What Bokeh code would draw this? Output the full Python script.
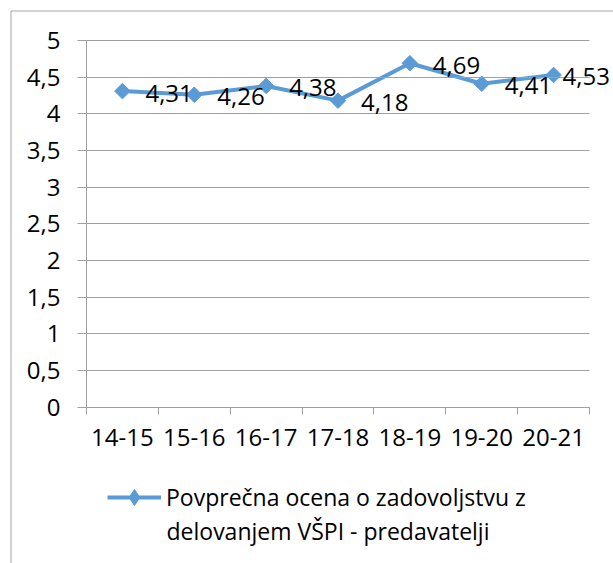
import math
from bokeh.plotting import figure
from bokeh.models import (Range1d, FixedTicker, CustomJSTickFormatter, ColumnDataSource,
                          LabelSet, Label, Legend, LegendItem, BoxAnnotation)
from bokeh.core.properties import value
from bokeh.embed import file_html
from bokeh.resources import INLINE

categories = ["14-15", "15-16", "16-17", "17-18", "18-19", "19-20", "20-21"]
values = [4.31, 4.26, 4.38, 4.18, 4.69, 4.41, 4.53]
value_labels = ["4,31", "4,26", "4,38", "4,18", "4,69", "4,41", "4,53"]
y_ticks = [0, 0.5, 1, 1.5, 2, 2.5, 3, 3.5, 4, 4.5, 5]
series_name_1 = "Povprečna ocena o zadovoljstvu z"
series_name_2 = "delovanjem VŠPI - predavatelji"

BLUE = "#5B9BD5"
GRAY = "#A0A0A0"
FONT = "Open Sans"
FS = "24px"
FS_LEG = "23px"

n = len(categories)
xs = [i + 0.5 for i in range(n)]
label_dx = [23] * (n - 1) + [9]

src = ColumnDataSource(dict(x=xs, y=values, lbl=value_labels, dx=label_dx))

# the frame covers the whole canvas; axes sit at fixed locations inside it
X0, X1 = -1.1968, 7.334
Y0, Y1 = -2.1315, 5.5455
p = figure(width=613, height=563, output_backend="svg", toolbar_location=None,
           x_range=Range1d(X0, X1), y_range=Range1d(Y0, Y1),
           min_border_left=0, min_border_top=0, min_border_right=0, min_border_bottom=0)
p.outline_line_color = None
p.background_fill_color = "white"
p.border_fill_color = "white"
p.xgrid.grid_line_color = None
p.ygrid.grid_line_color = None

# chart-area border: only its left and top edges fall inside the picture
p.add_layout(BoxAnnotation(left=-1.0507, top=5.4023, right=X1 + 5, bottom=Y0 - 5,
                           fill_color=None, fill_alpha=0, line_color="#A6A6A6",
                           line_width=1, line_alpha=1, level="underlay"))

# x axis at y = 0
xa = p.xaxis[0]
xa.fixed_location = 0
xa.bounds = (0, n)
xa.ticker = FixedTicker(ticks=xs, minor_ticks=list(range(n + 1)))
xa.formatter = CustomJSTickFormatter(args=dict(labels=categories),
                                     code="return labels[Math.floor(tick)];")
xa.major_tick_line_color = None
xa.major_tick_out = 0
xa.major_tick_in = 0
xa.minor_tick_line_color = GRAY
xa.minor_tick_out = 7
xa.minor_tick_in = 0
xa.axis_line_color = GRAY
xa.major_label_standoff = 15
xa.major_label_text_font = FONT
xa.major_label_text_font_size = FS
xa.major_label_text_color = "black"

# y axis at x = 0; its inward ticks form the horizontal gridlines across the categories
ya = p.yaxis[0]
ya.fixed_location = 0
ya.bounds = (0, 5)
ya.ticker = FixedTicker(ticks=y_ticks)
ya.formatter = CustomJSTickFormatter(code="return String(tick).replace('.', ',');")
ya.major_tick_line_color = GRAY
ya.major_tick_out = 9
ya.major_tick_in = 503
ya.minor_tick_line_color = None
ya.axis_line_color = GRAY
ya.major_label_standoff = 17
ya.major_label_text_font = FONT
ya.major_label_text_font_size = FS
ya.major_label_text_color = "black"

r_line = p.line("x", "y", source=src, line_color=BLUE, line_width=4)
r_pts = p.scatter("x", "y", source=src, marker="square", angle=math.pi / 4, size=11,
                  fill_color=BLUE, line_color=BLUE, line_width=1)
# diamond symbol used only by the legend (zero size in the plot itself)
r_leg = p.scatter("x", "y", source=src, marker="diamond", size=0,
                  fill_color=BLUE, line_color=BLUE, line_width=1)

labels = LabelSet(x="x", y="y", text="lbl", source=src, x_offset="dx", y_offset=-2,
                  text_font=value(FONT), text_font_size=value(FS), text_color="black",
                  text_baseline="middle", text_align="left")
p.add_layout(labels)

legend = Legend(items=[LegendItem(label=series_name_1, renderers=[r_line, r_leg])],
                location=(107, 46), border_line_color=None, background_fill_alpha=0,
                padding=0, margin=0, glyph_width=54, glyph_height=40, label_standoff=5,
                label_text_font=FONT, label_text_font_size=FS_LEG, label_text_color="black")
p.add_layout(legend, "center")

p.add_layout(Label(x=166, y=33, x_units="screen", y_units="screen", text=series_name_2,
                   text_font=FONT, text_font_size=FS_LEG, text_color="black",
                   text_baseline="middle", text_align="left"))

open("out.html", "w").write(file_html(p, INLINE))
